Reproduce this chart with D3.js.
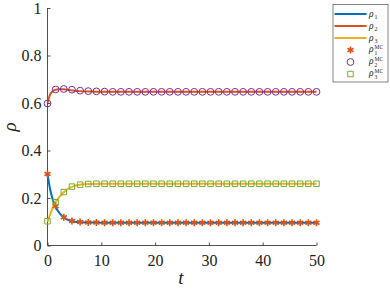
<!DOCTYPE html>
<html><head><meta charset="utf-8">
<script src="https://cdn.jsdelivr.net/npm/d3@7"></script>
<style>body{margin:0;background:#fff}svg{display:block}
svg text{font-family:"Liberation Serif","DejaVu Serif","Times New Roman",serif;}</style>
</head><body><svg id="c" width="390" height="292"></svg>
<script>
// Line series (time, values)
const tLine = [0, 0.5, 1, 1.5, 2, 3, 4, 5, 6, 8, 10, 15, 20, 30, 40, 50];
const rho1 = [0.30, 0.236, 0.192, 0.163, 0.143, 0.119, 0.106, 0.100, 0.098, 0.097, 0.096, 0.096, 0.096, 0.096, 0.096, 0.096];
const rho2 = [0.60, 0.636, 0.651, 0.656, 0.658, 0.658, 0.655, 0.652, 0.650, 0.648, 0.647, 0.647, 0.647, 0.647, 0.647, 0.647];
const rho3 = [0.10, 0.131, 0.160, 0.182, 0.198, 0.224, 0.241, 0.251, 0.256, 0.259, 0.260, 0.260, 0.260, 0.260, 0.260, 0.260];
// Monte Carlo markers (34 samples over [0, 50])
const nMC = 34;
const rho1MC = [0.301, 0.166, 0.119, 0.103, 0.099, 0.097, 0.097, 0.096, 0.096, 0.096, 0.096, 0.096, 0.096, 0.096, 0.096, 0.096, 0.096,
                0.096, 0.096, 0.096, 0.096, 0.096, 0.096, 0.096, 0.096, 0.096, 0.096, 0.096, 0.096, 0.096, 0.096, 0.096, 0.096, 0.096];
const rho2MC = [0.598, 0.657, 0.659, 0.656, 0.652, 0.650, 0.649, 0.648, 0.647, 0.647, 0.647, 0.647, 0.647, 0.647, 0.647, 0.647, 0.647,
                0.647, 0.647, 0.647, 0.647, 0.647, 0.647, 0.647, 0.647, 0.647, 0.647, 0.647, 0.647, 0.647, 0.647, 0.647, 0.647, 0.647];
const rho3MC = [0.102, 0.182, 0.225, 0.248, 0.256, 0.259, 0.260, 0.260, 0.260, 0.260, 0.260, 0.260, 0.260, 0.260, 0.260, 0.260, 0.260,
                0.260, 0.260, 0.260, 0.260, 0.260, 0.260, 0.260, 0.260, 0.260, 0.260, 0.260, 0.260, 0.260, 0.260, 0.260, 0.260, 0.260];
const tMC = d3.range(nMC).map(i => i * 50 / (nMC - 1));
const xTicks = [0, 10, 20, 30, 40, 50];
const yTicks = [0, 0.2, 0.4, 0.6, 0.8, 1];

const svg = d3.select("#c");
const x = d3.scaleLinear().domain([0, 50]).range([47.5, 316.5]);
const y = d3.scaleLinear().domain([0, 1]).range([245.5, 8]);
const axisCol = "#262626";

// axes
const gx = svg.append("g").attr("transform", "translate(0,245.5)")
  .call(d3.axisBottom(x).tickValues(xTicks).tickSize(-3).tickPadding(9).tickFormat(d3.format("d")));
const gy = svg.append("g").attr("transform", "translate(47.5,0)")
  .call(d3.axisLeft(y).tickValues(yTicks).tickSize(-3).tickPadding(6).tickFormat(d => d === 0 ? "0" : d === 1 ? "1" : d3.format(".1f")(d)));
[gx, gy].forEach(g => {
  g.attr("font-family", null);
  g.selectAll("path.domain").attr("stroke", axisCol).attr("stroke-width", 0.8);
  g.selectAll(".tick line").attr("stroke", axisCol).attr("stroke-width", 0.8);
  g.selectAll(".tick text").attr("fill", "#222").attr("font-size", 16);
});
gx.selectAll("path.domain").attr("d", `M${x(0)},0H${x(50)}`);
gy.selectAll("path.domain").attr("d", `M0,${y(0)}V${y(1)}`);

// axis labels
svg.append("text").attr("x", 181).attr("y", 284).attr("text-anchor", "middle")
  .attr("font-style", "italic").attr("font-size", 19).attr("fill", "#222").text("t");
svg.append("text").attr("transform", "translate(16,127) rotate(-90)").attr("text-anchor", "middle")
  .attr("font-style", "italic").attr("font-size", 19).attr("fill", "#222").text("ρ");

const cols = {b: "#0072BD", o: "#D95319", y: "#EDB120", p: "#7E2F8E", g: "#77AC30"};
const line = d3.line().x(d => x(d[0])).y(d => y(d[1])).curve(d3.curveMonotoneX);
[[rho1, cols.b], [rho2, cols.o], [rho3, cols.y]].forEach(([v, c]) => {
  svg.append("path").attr("d", line(tLine.map((t, i) => [t, v[i]])))
    .attr("fill", "none").attr("stroke", c).attr("stroke-width", 2);
});

const star = d3.symbol().type(d3.symbolAsterisk).size(34);
const sq = d3.symbol().type(d3.symbolSquare).size(30);
function drawStar(g, cx, cy) {
  g.append("path").attr("d", star()).attr("transform", `translate(${cx},${cy})`)
    .attr("fill", "none").attr("stroke", cols.o).attr("stroke-width", 1.6);
}
function drawCircle(g, cx, cy) {
  g.append("circle").attr("cx", cx).attr("cy", cy).attr("r", 3.4)
    .attr("fill", "none").attr("stroke", cols.p).attr("stroke-width", 1);
}
function drawSquare(g, cx, cy) {
  g.append("path").attr("d", sq()).attr("transform", `translate(${cx},${cy})`)
    .attr("fill", "none").attr("stroke", cols.g).attr("stroke-width", 1);
}
const mg = svg.append("g");
tMC.forEach((t, i) => drawStar(mg, x(t), y(rho1MC[i])));
tMC.forEach((t, i) => drawCircle(mg, x(t), y(rho2MC[i])));
tMC.forEach((t, i) => drawSquare(mg, x(t), y(rho3MC[i])));

// legend
const lg = svg.append("g");
lg.append("rect").attr("x", 333).attr("y", 4.5).attr("width", 55).attr("height", 77.5)
  .attr("fill", "#fff").attr("stroke", "#333").attr("stroke-width", 0.6);
const labels = ["1", "2", "3", "1", "2", "3"];
labels.forEach((s, i) => {
  const cy = 14 + i * 12;
  if (i < 3) {
    lg.append("line").attr("x1", 334.5).attr("x2", 366.5).attr("y1", cy).attr("y2", cy)
      .attr("stroke", [cols.b, cols.o, cols.y][i]).attr("stroke-width", 2);
  } else {
    [drawStar, drawCircle, drawSquare][i - 3](lg, 350.5, cy);
  }
  const base = i >= 3 ? cy + 2 : cy + 3;
  lg.append("text").attr("x", 369).attr("y", base).attr("font-size", 9.5).attr("fill", "#222")
    .attr("font-style", "italic").text("ρ");
  if (i >= 3) {
    lg.append("text").attr("x", 374.5).attr("y", base - 3.2).attr("font-size", 5.5).attr("fill", "#222").text("MC");
    lg.append("text").attr("x", 374.5).attr("y", base + 2.6).attr("font-size", 5.5).attr("fill", "#222").text(s);
  } else {
    lg.append("text").attr("x", 374.5).attr("y", base + 1.8).attr("font-size", 6).attr("fill", "#222").text(s);
  }
});
</script></body></html>
